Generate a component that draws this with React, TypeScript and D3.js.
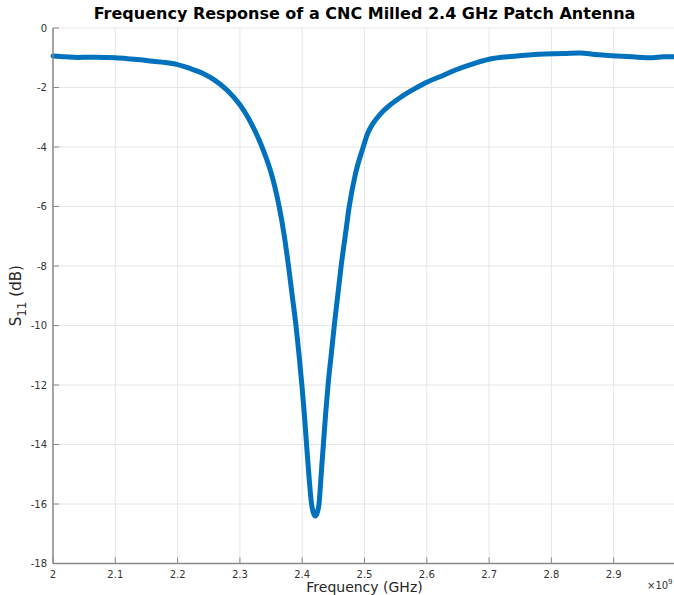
import * as d3 from 'd3'

const W = 674
const H = 595
const M = { top: 28, right: -2, bottom: 31.5, left: 53 }

// frequency (GHz) and S11 (dB)
const freqGHz = [
  2.0, 2.02, 2.04, 2.06, 2.08, 2.1, 2.12, 2.14, 2.16, 2.18, 2.2, 2.22, 2.24, 2.26, 2.28,
  2.3, 2.31, 2.32, 2.33, 2.34, 2.35, 2.356, 2.363, 2.371, 2.378, 2.384, 2.39, 2.395, 2.3995,
  2.4035, 2.407, 2.411, 2.415, 2.418, 2.421, 2.424, 2.427, 2.4305, 2.434, 2.4375, 2.4415,
  2.4465, 2.4515, 2.457, 2.4625, 2.469, 2.4755, 2.4855, 2.498, 2.505, 2.514, 2.525, 2.538,
  2.56, 2.584, 2.6, 2.621, 2.645, 2.669, 2.7, 2.74, 2.78, 2.82, 2.846, 2.87, 2.905, 2.93,
  2.963, 2.98, 3.0,
]
const s11dB = [
  -0.94, -0.97, -0.99, -0.98, -0.99, -1.0, -1.03, -1.07, -1.12, -1.16, -1.23, -1.36, -1.52, -1.76, -2.1,
  -2.58, -2.9, -3.28, -3.72, -4.24, -4.86, -5.33, -6.0, -6.95, -8.0, -9.0, -10.0, -11.0, -12.0,
  -13.0, -14.0, -15.1, -16.0, -16.3, -16.4, -16.3, -16.0, -15.0, -14.0, -13.0, -12.0,
  -11.0, -10.0, -9.0, -8.0, -7.0, -6.0, -4.9, -4.0, -3.55, -3.2, -2.9, -2.64,
  -2.3, -2.0, -1.82, -1.64, -1.42, -1.24, -1.05, -0.95, -0.88, -0.86, -0.84, -0.89, -0.94, -0.97,
  -1.0, -0.97, -0.97,
]

const xTicks = [2, 2.1, 2.2, 2.3, 2.4, 2.5, 2.6, 2.7, 2.8, 2.9]
const yTicks = [0, -2, -4, -6, -8, -10, -12, -14, -16, -18]

const FONT = '"DejaVu Sans", sans-serif'

export default function App() {
  const x = d3.scaleLinear().domain([2, 3]).range([M.left, W - M.right])
  const y = d3.scaleLinear().domain([-18, 0]).range([H - M.bottom, M.top])

  const points = freqGHz.map((f, i) => [f, s11dB[i]] as [number, number])
  const line = d3.line<[number, number]>()
    .x(d => x(d[0]))
    .y(d => y(d[1]))
    .curve(d3.curveMonotoneX)

  const x0 = x(2)
  const y0 = y(-18)

  return (
    <svg width={W} height={H} style={{ position: 'absolute', left: 0, top: 0, background: '#fff' }} fontFamily={FONT}>
      {/* grid */}
      {xTicks.map(t => (
        <line key={'gx' + t} x1={x(t)} x2={x(t)} y1={y(0)} y2={y0} stroke="#e6e6e6" strokeWidth={1} />
      ))}
      {yTicks.map(t => (
        <line key={'gy' + t} x1={x0} x2={W} y1={y(t)} y2={y(t)} stroke="#e6e6e6" strokeWidth={1} />
      ))}

      {/* trace */}
      <path d={line(points) ?? ''} fill="none" stroke="#0072BD" strokeWidth={5} strokeLinejoin="round" strokeLinecap="round" />

      {/* axes */}
      <line x1={x0} x2={W} y1={y0} y2={y0} stroke="#8a8a8a" strokeWidth={1.5} />
      <line x1={x0} x2={x0} y1={y(0)} y2={y0} stroke="#8a8a8a" strokeWidth={1.5} />
      {xTicks.map(t => (
        <g key={'xt' + t}>
          <line x1={x(t)} x2={x(t)} y1={y0} y2={y0 - 6} stroke="#8a8a8a" strokeWidth={1} />
          <text x={x(t)} y={y0 + 14} textAnchor="middle" fontSize={10} fill="#333">{t}</text>
        </g>
      ))}
      {yTicks.map(t => (
        <g key={'yt' + t}>
          <line x1={x0} x2={x0 + 6} y1={y(t)} y2={y(t)} stroke="#8a8a8a" strokeWidth={1} />
          <text x={x0 - 6} y={y(t) + 3.5} textAnchor="end" fontSize={10} fill="#333">{t}</text>
        </g>
      ))}

      {/* exponent */}
      <text x={647} y={589} fontSize={10} fill="#333">
        ×10<tspan dy={-5} fontSize={7}>9</tspan>
      </text>

      {/* labels */}
      <text x={x(2.5)} y={19} textAnchor="middle" fontSize={16} fontWeight="bold" fill="#000">
        Frequency Response of a CNC Milled 2.4 GHz Patch Antenna
      </text>
      <text x={x(2.5)} y={592} textAnchor="middle" fontSize={14} fill="#262626">Frequency (GHz)</text>
      <text transform={`translate(21,${y(-9)}) rotate(-90)`} textAnchor="middle" fontSize={15} fill="#262626">
        S<tspan dy={5} fontSize={12}>11</tspan><tspan dy={-5}> (dB)</tspan>
      </text>
    </svg>
  )
}
